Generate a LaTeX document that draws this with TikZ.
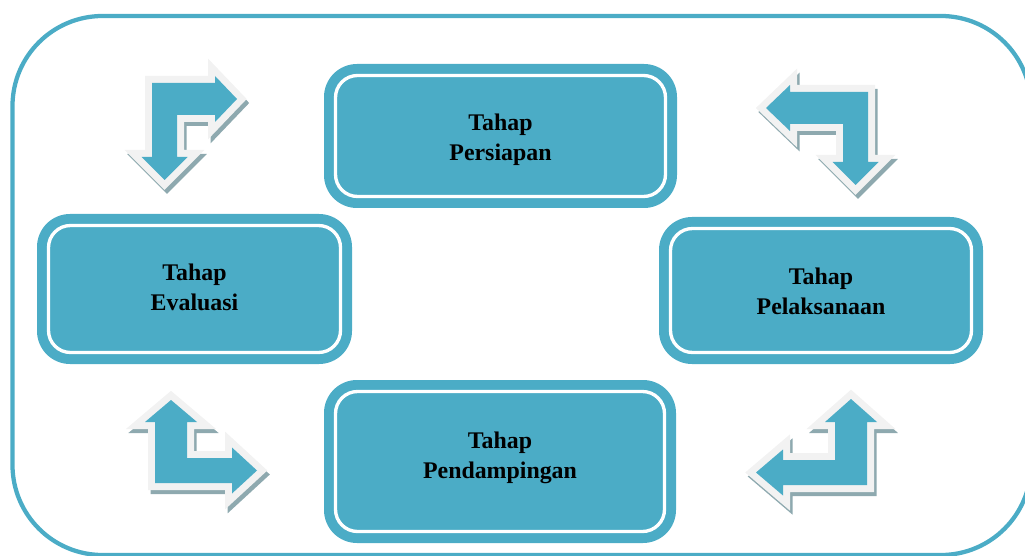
\documentclass[tikz,border=0pt]{standalone}
\usepackage{fontspec}
\setmainfont{Liberation Serif}
\definecolor{tealc}{HTML}{4BACC6}
\definecolor{halo}{HTML}{F2F2F2}
\definecolor{shade}{HTML}{8EA9AF}
\tikzset{
  stagebox/.style n args={2}{fill=tealc, draw=none, rounded corners=24.75pt,
    minimum width=#1*0.75pt, minimum height=#2*0.75pt, inner sep=0pt, outer sep=0pt,
    align=center, font=\fontsize{17.9}{22.5}\selectfont\bfseries, text=black},
  ring/.style={draw=white, line width=2.5pt, rounded corners=16.5pt},
  frame/.style={draw=tealc, line width=3.2pt, rounded corners=67.5pt},
}
\newcommand\bentarrow[1]{%
  \path[shift={(2.5,4)}, fill=shade, draw=shade, line width=10.5pt, line join=miter] #1;
  \path[fill=halo, draw=halo, line width=10.5pt, line join=miter] #1;
  \path[fill=tealc] #1;}
\newcommand\twolines[3]{\raisebox{#1}[\height][\depth]{\begin{tabular}{@{}c@{}}#2\\#3\end{tabular}}}
\begin{document}
\begin{tikzpicture}[x=0.75pt, y=-0.75pt]
\useasboundingbox (0,0) rectangle (1025,556);
% outer frame
\draw[frame] (12.5,16) rectangle (1031,555);

% stage boxes
\node[stagebox={353}{144}] (prep) at (500.5,136) {\twolines{-3pt}{Tahap}{Persiapan}};
\node[stagebox={315}{150}] (eval) at (194.5,289) {\twolines{0pt}{Tahap}{Evaluasi}};
\node[stagebox={324}{147}] (impl) at (821,290.5) {\twolines{-2pt}{Tahap}{Pelaksanaan}};
\node[stagebox={352}{163}] (assist) at (500,461.5) {\twolines{3pt}{Tahap}{Pendampingan}};
\foreach \n in {prep,eval,impl,assist}{
  \draw[ring] ([shift={(11.5,11.5)}]\n.north west) rectangle ([shift={(-11.5,-11.5)}]\n.south east);
}

% bent arrows
\bentarrow{(152,83) -- (215,83) -- (215,76) -- (237,99) -- (215,122) -- (215,115) -- (177,115) -- (177,157) -- (187.5,157) -- (164.5,180) -- (141.5,157) -- (152,157) -- cycle}
\bentarrow{(868,92) -- (868,162) -- (878.5,162) -- (855.5,185) -- (832.5,162) -- (843,162) -- (843,124) -- (790,124) -- (790,131) -- (766,108) -- (790,85) -- (790,92) -- cycle}
\bentarrow{(155,483) -- (155,422) -- (145,422) -- (171,400) -- (197,422) -- (187,422) -- (187,458) -- (232,458) -- (232,447.5) -- (257,470.5) -- (232,493.5) -- (232,483) -- cycle}
\bentarrow{(867,485) -- (783,485) -- (783,495.5) -- (756,472.5) -- (783,449.5) -- (783,460) -- (835,460) -- (835,422) -- (825,422) -- (851,399) -- (877,422) -- (867,422) -- cycle}
\end{tikzpicture}
\end{document}
